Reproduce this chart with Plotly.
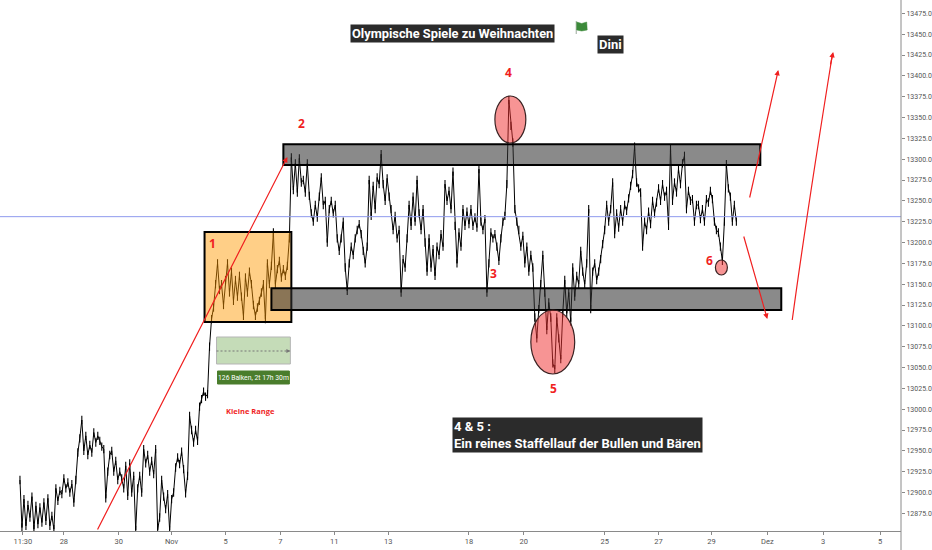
import plotly.graph_objects as go

# close prices, one bar per entry
price = [
    12915, 12858, 12892, 12860, 12885, 12870, 12895, 12856, 12884, 12862,
    12882, 12864, 12888, 12866, 12893, 12860, 12872, 12856, 12905, 12890,
    12902, 12898, 12917, 12905, 12912, 12900, 12910, 12888, 12915, 12948,
    12965, 12987, 12950, 12968, 12945, 12957, 12948, 12972, 12960, 12968,
    12962, 12955, 12952, 12893, 12925, 12945, 12950, 12925, 12938, 12915,
    12925, 12917, 12905, 12932, 12896, 12935, 12900, 12920, 12855, 12905,
    12920, 12900, 12952, 12935, 12945, 12925, 12938, 12922, 12952, 12855,
    12870, 12915, 12895, 12880, 12898, 12855, 12892, 12900, 12930, 12942,
    12934, 12949, 12928, 12899, 12920, 12992, 12975, 12960, 12975, 12962,
    13003, 13012, 13021, 13015, 13018, 13075, 13108, 13122, 13150, 13175,
    13143, 13150, 13125, 13155, 13175, 13140, 13165, 13130, 13155, 13135,
    13160, 13135, 13112, 13158, 13140, 13165, 13150, 13125, 13112, 13122,
    13130, 13140, 13150, 13108, 13175, 13150, 13172, 13212, 13150, 13168,
    13178, 13158, 13168, 13160, 13172, 13205, 13302, 13263, 13295, 13260,
    13301, 13272, 13275, 13260, 13295, 13256, 13235, 13225, 13245, 13230,
    13255, 13278, 13245, 13250, 13200, 13240, 13250, 13235, 13245, 13205,
    13190, 13205, 13225, 13170, 13142, 13175, 13195, 13185, 13205, 13215,
    13222, 13210, 13190, 13175, 13195, 13275, 13232, 13268, 13240, 13278,
    13270, 13306, 13270, 13250, 13277, 13255, 13240, 13215, 13232, 13205,
    13215, 13140, 13180, 13170, 13205, 13245, 13220, 13255, 13225, 13275,
    13235, 13215, 13240, 13200, 13165, 13205, 13170, 13192, 13160, 13195,
    13185, 13210, 13195, 13270, 13250, 13262, 13240, 13285, 13220, 13175,
    13212, 13195, 13240, 13220, 13237, 13222, 13240, 13220, 13230, 13218,
    13288, 13225, 13215, 13228, 13140, 13175, 13212, 13205, 13210, 13195,
    13178, 13205, 13225, 13232, 13270, 13371, 13340, 13320, 13240, 13225,
    13215, 13195, 13208, 13175, 13195, 13165, 13185, 13170, 13110, 13085,
    13120, 13150, 13185, 13140, 13095, 13128, 13110, 13055, 13048, 13110,
    13085, 13060, 13115, 13155, 13115, 13140, 13105, 13170, 13135, 13160,
    13150, 13190, 13165, 13150, 13175, 13240, 13120, 13165, 13175, 13155,
    13165, 13180, 13198, 13215, 13245, 13225, 13240, 13272, 13210, 13235,
    13218, 13240, 13225, 13245, 13238, 13253, 13268, 13282, 13315, 13272,
    13265, 13260, 13195, 13225, 13215, 13237, 13222, 13250, 13235, 13248,
    13265, 13250, 13270, 13255, 13262, 13220, 13313, 13250, 13272, 13260,
    13288, 13270, 13295, 13304, 13240, 13262, 13250, 13252, 13225, 13245,
    13245, 13228, 13240, 13225, 13252, 13248, 13262, 13252, 13225, 13215,
    13212, 13195, 13178, 13225, 13294, 13265, 13255, 13225, 13245, 13225,
]
bars = list(range(len(price)))

time_ticks = [1.5, 22, 49.5, 76, 103, 130.5, 157.5, 184.5, 225, 252.5, 293, 320, 346.5, 374.5, 402.5, 431]
time_labels = ["11:30", "28", "30", "Nov", "5", "7", "11", "13", "18", "20", "25", "27", "29", "Dez", "3", "5"]

last_price = 13231
upper_zone = [13293, 13318]
lower_zone = [13119, 13145]
typical_bar_half_range = 5

FONT = "Roboto"
RED = "#f01f1f"


# drawings were placed on screen, so convert screen position to chart values
def cx(px):
    return (px - 20) / 2


def cy(py):
    return 13491 - 1.2 * py


def box(x0, x1, y0, y1, fill, line="black", width=2):
    return dict(type="rect", x0=cx(x0), x1=cx(x1), y0=cy(y0), y1=cy(y1),
                fillcolor=fill, line=dict(color=line, width=width))


def oval(x0, x1, y0, y1):
    return dict(type="circle", x0=cx(x0), x1=cx(x1), y0=cy(y0), y1=cy(y1),
                fillcolor="rgba(240,50,50,0.52)", line=dict(color="#3a2222", width=1.2))


def arrow(x0, y0, x1, y1, color=RED, width=1.2, head=2, size=0.9):
    return dict(x=cx(x1), y=cy(y1), ax=cx(x0), ay=cy(y0), xref="x", yref="y", axref="x", ayref="y",
                text="", showarrow=True, arrowhead=head, arrowsize=size, arrowwidth=width,
                arrowcolor=color, standoff=0, startstandoff=0)


def label(x, y, text, size=12, color=RED, family="Open Sans"):
    return dict(x=cx(x), y=cy(y), xref="x", yref="y", text=text, showarrow=False,
                font=dict(family=family, size=size, color=color))


def dark_label(x, y, text, size=13, anchor="center"):
    return dict(x=cx(x), y=cy(y), xref="x", yref="y", text="<b>" + text + "</b>", showarrow=False,
                align="left", xanchor=anchor, bgcolor="#2b2b2b", borderpad=1,
                font=dict(family=FONT, size=size, color="white"))


fig = go.Figure()
fig.add_trace(go.Scatter(x=bars, y=price, mode="lines", line=dict(color="black", width=1), hoverinfo="skip",
                         error_y=dict(type="constant", value=typical_bar_half_range, width=0, thickness=1.1, color="black")))

shapes = [
    dict(type="line", xref="paper", x0=0, x1=1, y0=last_price, y1=last_price, line=dict(color="#8f9bee", width=1)),
    dict(type="line", xref="paper", yref="paper", x0=1, x1=1, y0=-19 / 531, y1=1, line=dict(color="#8a8a8a", width=1)),
    box(205, 292, 232, 322, "rgba(255,152,0,0.47)"),
    dict(type="rect", x0=cx(284), x1=cx(762), y0=upper_zone[0], y1=upper_zone[1],
         fillcolor="rgba(50,50,50,0.57)", line=dict(color="black", width=2)),
    dict(type="rect", x0=cx(272), x1=cx(783), y0=lower_zone[0], y1=lower_zone[1],
         fillcolor="rgba(50,50,50,0.57)", line=dict(color="black", width=2)),
    oval(496, 527, 96, 143),
    oval(532, 576, 310, 374),
    oval(717, 729, 260, 275),
    box(217, 291, 337, 364, "#c5dcb8", line="#b5b5b5", width=1),
    dict(type="line", x0=cx(217), x1=cx(290), y0=cy(351), y1=cy(351), line=dict(color="#777777", width=1, dash="2px,2px")),
    box(218, 290, 371, 384, "#4a7d2c", line="#4a7d2c", width=1),
    # long recovery arrow, slightly bent
    dict(type="path", path="M %g,%g Q %g,%g %g,%g" % (cx(794), cy(320), cx(808), cy(217), cx(834), cy(56)),
         line=dict(color=RED, width=1.2)),
    # flag
    dict(type="line", x0=cx(577.5), x1=cx(577.5), y0=cy(21), y1=cy(34), line=dict(color="#9aa89a", width=1)),
    dict(type="path", path="M %g,%g L %g,%g L %g,%g L %g,%g L %g,%g L %g,%g Z" % (
        cx(578), cy(22), cx(583), cy(23.5), cx(588), cy(22), cx(588.5), cy(30), cx(583), cy(31), cx(578), cy(30)),
         fillcolor="#3c8a3a", line=dict(color="#3c8a3a", width=0.5)),
]

annotations = [
    arrow(97, 531, 288, 157),
    arrow(751, 199, 780, 70),
    arrow(745, 235, 769, 319),
    arrow(832, 66, 835, 52),
    arrow(286, 351, 291, 351, color="#777777", width=1, head=2, size=0.8),
    label(213, 243, "<b>1</b>"),
    label(302, 123, "<b>2</b>"),
    label(495, 273, "<b>3</b>"),
    label(510, 72, "<b>4</b>"),
    label(555, 388, "<b>5</b>"),
    label(711, 260, "<b>6</b>"),
    label(251, 411, "<b>Kleine Range</b>", size=7.5),
    label(254, 377.5, "126 Balken, 2t 17h 30m", size=6.8, color="white", family=FONT),
    dark_label(453, 435, "4 &amp; 5 :<br>Ein reines Staffellauf der Bullen und Bären", anchor="left"),
    dark_label(454, 33, "Olympische Spiele zu Weihnachten", size=12.8),
    dark_label(611.5, 44.5, "Dini"),
]

fig.update_layout(
    width=932, height=550,
    margin=dict(l=0, r=29, t=0, b=19),
    paper_bgcolor="white", plot_bgcolor="white",
    showlegend=False,
    shapes=shapes,
    annotations=annotations,
    xaxis=dict(range=[-10, 441.5], showgrid=False, zeroline=False, tickmode="array",
               tickvals=time_ticks, ticktext=time_labels, ticks="outside", ticklen=3,
               tickcolor="#8a8a8a", showline=True, linecolor="#8a8a8a", linewidth=1,
               tickfont=dict(family=FONT, size=7.5, color="#555555")),
    yaxis=dict(range=[12853.8, 13491], side="right", showgrid=False, zeroline=False, tick0=12875, dtick=25,
               tickformat=".1f", ticks="outside", ticklen=3, tickcolor="#8a8a8a",
               tickfont=dict(family=FONT, size=7, color="#555555")),
)

fig.write_html("out.html", post_script="document.body.style.margin='0';", config=dict(displayModeBar=False))
